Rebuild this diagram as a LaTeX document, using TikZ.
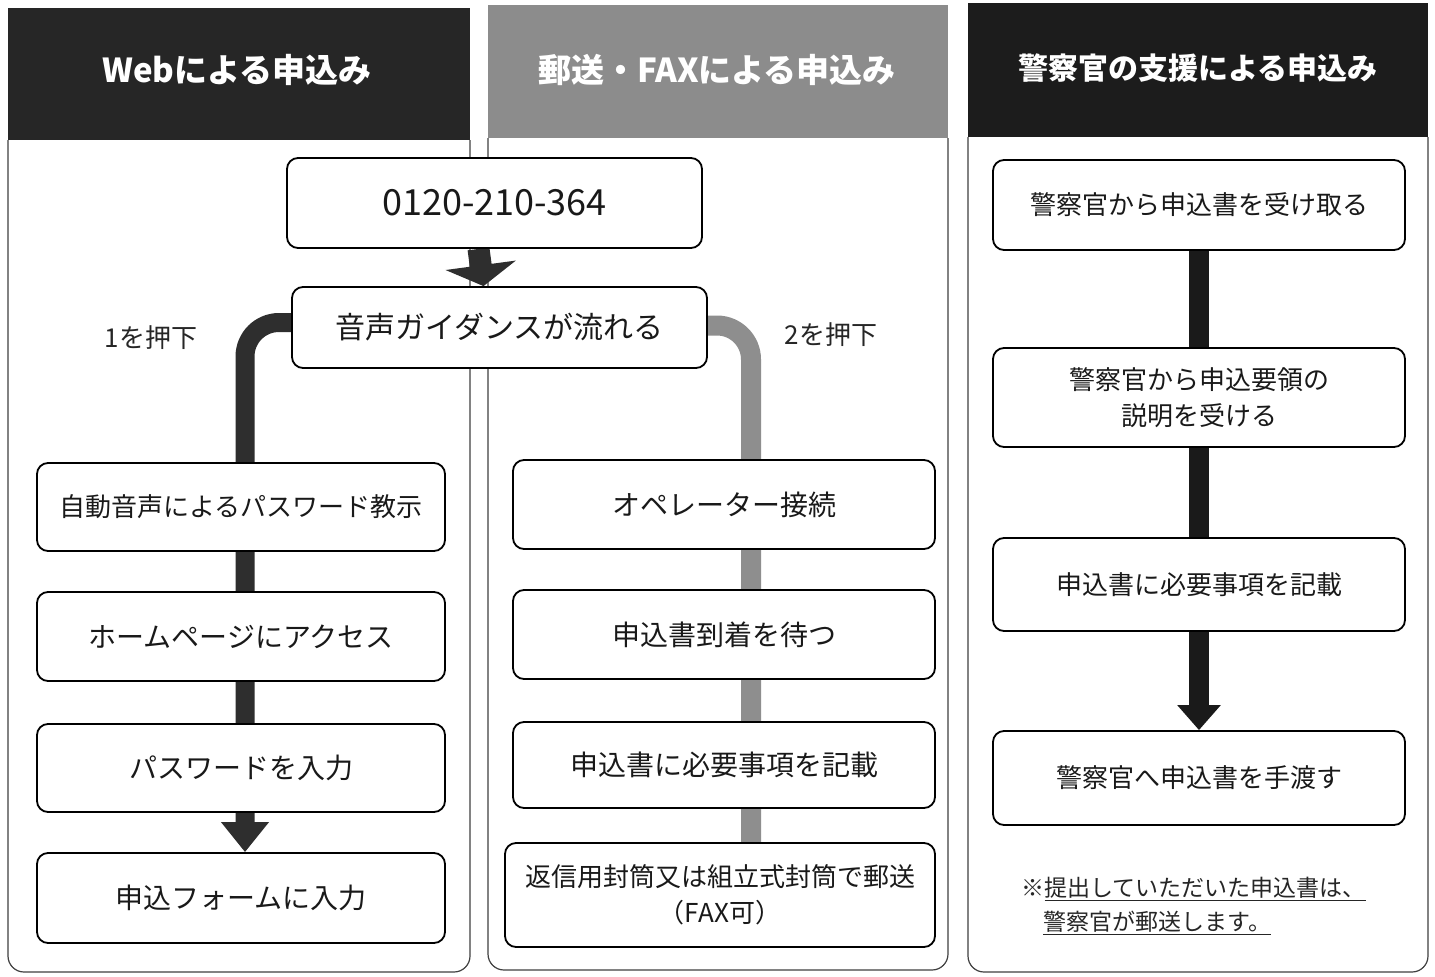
\documentclass[tikz,border=0pt]{standalone}
\usepackage{fontspec}
\setmainfont{Noto Sans CJK JP}
\usetikzlibrary{arrows.meta}
\pgfdeclarelayer{bg}
\pgfdeclarelayer{mid}
\pgfsetlayers{bg,mid,main}
\definecolor{hdrA}{HTML}{262626}
\definecolor{hdrB}{HTML}{8C8C8C}
\definecolor{hdrC}{HTML}{1C1C1C}
\definecolor{barA}{HTML}{2E2E2E}
\definecolor{barB}{HTML}{8E8E8E}
\definecolor{barC}{HTML}{1A1A1A}
\tikzset{
  panel/.style={draw=black!75, line width=1.2pt, rounded corners=16pt},
  stepbox/.style={draw=black, line width=1.8pt, rounded corners=11pt, fill=white, align=center, inner sep=0pt, text=black!90},
  hdrtext/.style={text=white, font=\fontsize{33pt}{40pt}\selectfont\bfseries},
  tA/.style={font=\fontsize{28pt}{36pt}\selectfont},
  tB/.style={font=\fontsize{26pt}{36pt}\selectfont},
  lbl/.style={font=\fontsize{26pt}{32pt}\selectfont, text=black!85},
}
\begin{document}
\begin{tikzpicture}[x=1pt,y=-1pt]
\useasboundingbox (0,0) rectangle (1435,977);
\begin{pgfonlayer}{bg}
\fill[white] (0,0) rectangle (1435,977);
% panels
\draw[panel] (8,140) -- (8,972) -- (470,972) -- (470,140);
\draw[panel] (488,138) -- (488,970) -- (948,970) -- (948,138);
\draw[panel] (968,137) -- (968,972) -- (1428,972) -- (1428,137);
\fill[hdrA] (8,8) rectangle (470,140);
\fill[hdrB] (488,5) rectangle (948,138);
\fill[hdrC] (968,3) rectangle (1428,137);
\end{pgfonlayer}

\node[hdrtext] (h1) at (237,70) {Webによる申込み};
\node[hdrtext] (h2) at (717,70) {郵送・FAXによる申込み};
\node[hdrtext, font=\fontsize{30pt}{36pt}\selectfont\bfseries] (h3) at (1198,68) {警察官の支援による申込み};

% centre top
\node[stepbox, minimum width=415pt, minimum height=90pt, font=\fontsize{36pt}{44pt}\selectfont] (phone) at (494.5,203) {0120-210-364};
\node[stepbox, minimum width=415pt, minimum height=81pt, font=\fontsize{30pt}{36pt}\selectfont] (guide) at (499.5,327.5) {音声ガイダンスが流れる};

% web column
\node[stepbox, tB, minimum width=408pt, minimum height=88pt] (w1) at (241,507) {自動音声によるパスワード教示};
\node[stepbox, tA, minimum width=408pt, minimum height=89pt] (w2) at (241,636.5) {ホームページにアクセス};
\node[stepbox, tA, minimum width=408pt, minimum height=88pt] (w3) at (241,768) {パスワードを入力};
\node[stepbox, tA, minimum width=408pt, minimum height=90pt] (w4) at (241,898) {申込フォームに入力};

% mail column
\node[stepbox, tA, minimum width=422pt, minimum height=89pt] (m1) at (724,504.5) {オペレーター接続};
\node[stepbox, tA, minimum width=422pt, minimum height=89pt] (m2) at (724,634.5) {申込書到着を待つ};
\node[stepbox, tA, minimum width=422pt, minimum height=86pt] (m3) at (724,765) {申込書に必要事項を記載};
\node[stepbox, tB, minimum width=430pt, minimum height=104pt] (m4) at (720,895) {返信用封筒又は組立式封筒で郵送\\（FAX可）};

% police column
\node[stepbox, tB, minimum width=412pt, minimum height=90pt] (r1) at (1199,205) {警察官から申込書を受け取る};
\node[stepbox, tB, minimum width=412pt, minimum height=99pt] (r2) at (1199,397.5) {警察官から申込要領の\\説明を受ける};
\node[stepbox, tB, minimum width=412pt, minimum height=93pt] (r3) at (1199,584.5) {申込書に必要事項を記載};
\node[stepbox, tB, minimum width=412pt, minimum height=94pt] (r4) at (1199,778) {警察官へ申込書を手渡す};

\node[lbl] (k1) at (151,338) {1を押下};
\node[lbl] (k2) at (831,335) {2を押下};

\node[anchor=west, align=left, font=\fontsize{23pt}{34pt}\selectfont, text=black!85] (note) at (1018,906)
  {※\underline{提出していただいた申込書は、}\\\hspace*{0.95em}\underline{警察官が郵送します。}};

\begin{pgfonlayer}{mid}
\draw[barA, line width=22pt, -{Triangle[width=70pt,length=21pt]}] ([xshift=-16pt]phone.south) -- ([xshift=-16pt]guide.north);
\draw[barA, line width=19pt, rounded corners=34pt, -{Triangle[width=46pt,length=30pt]}] ([yshift=5pt,xshift=10pt]guide.west) -| ([xshift=4pt]w4.north);
\draw[barB, line width=20pt, rounded corners=34pt] ([yshift=2pt,xshift=-10pt]guide.east) -| ([xshift=31pt]m4.north);
\draw[barC, line width=20pt, -{Triangle[width=42pt,length=25pt]}] (r1.south) -- (r4.north);
\end{pgfonlayer}
\end{tikzpicture}
\end{document}
